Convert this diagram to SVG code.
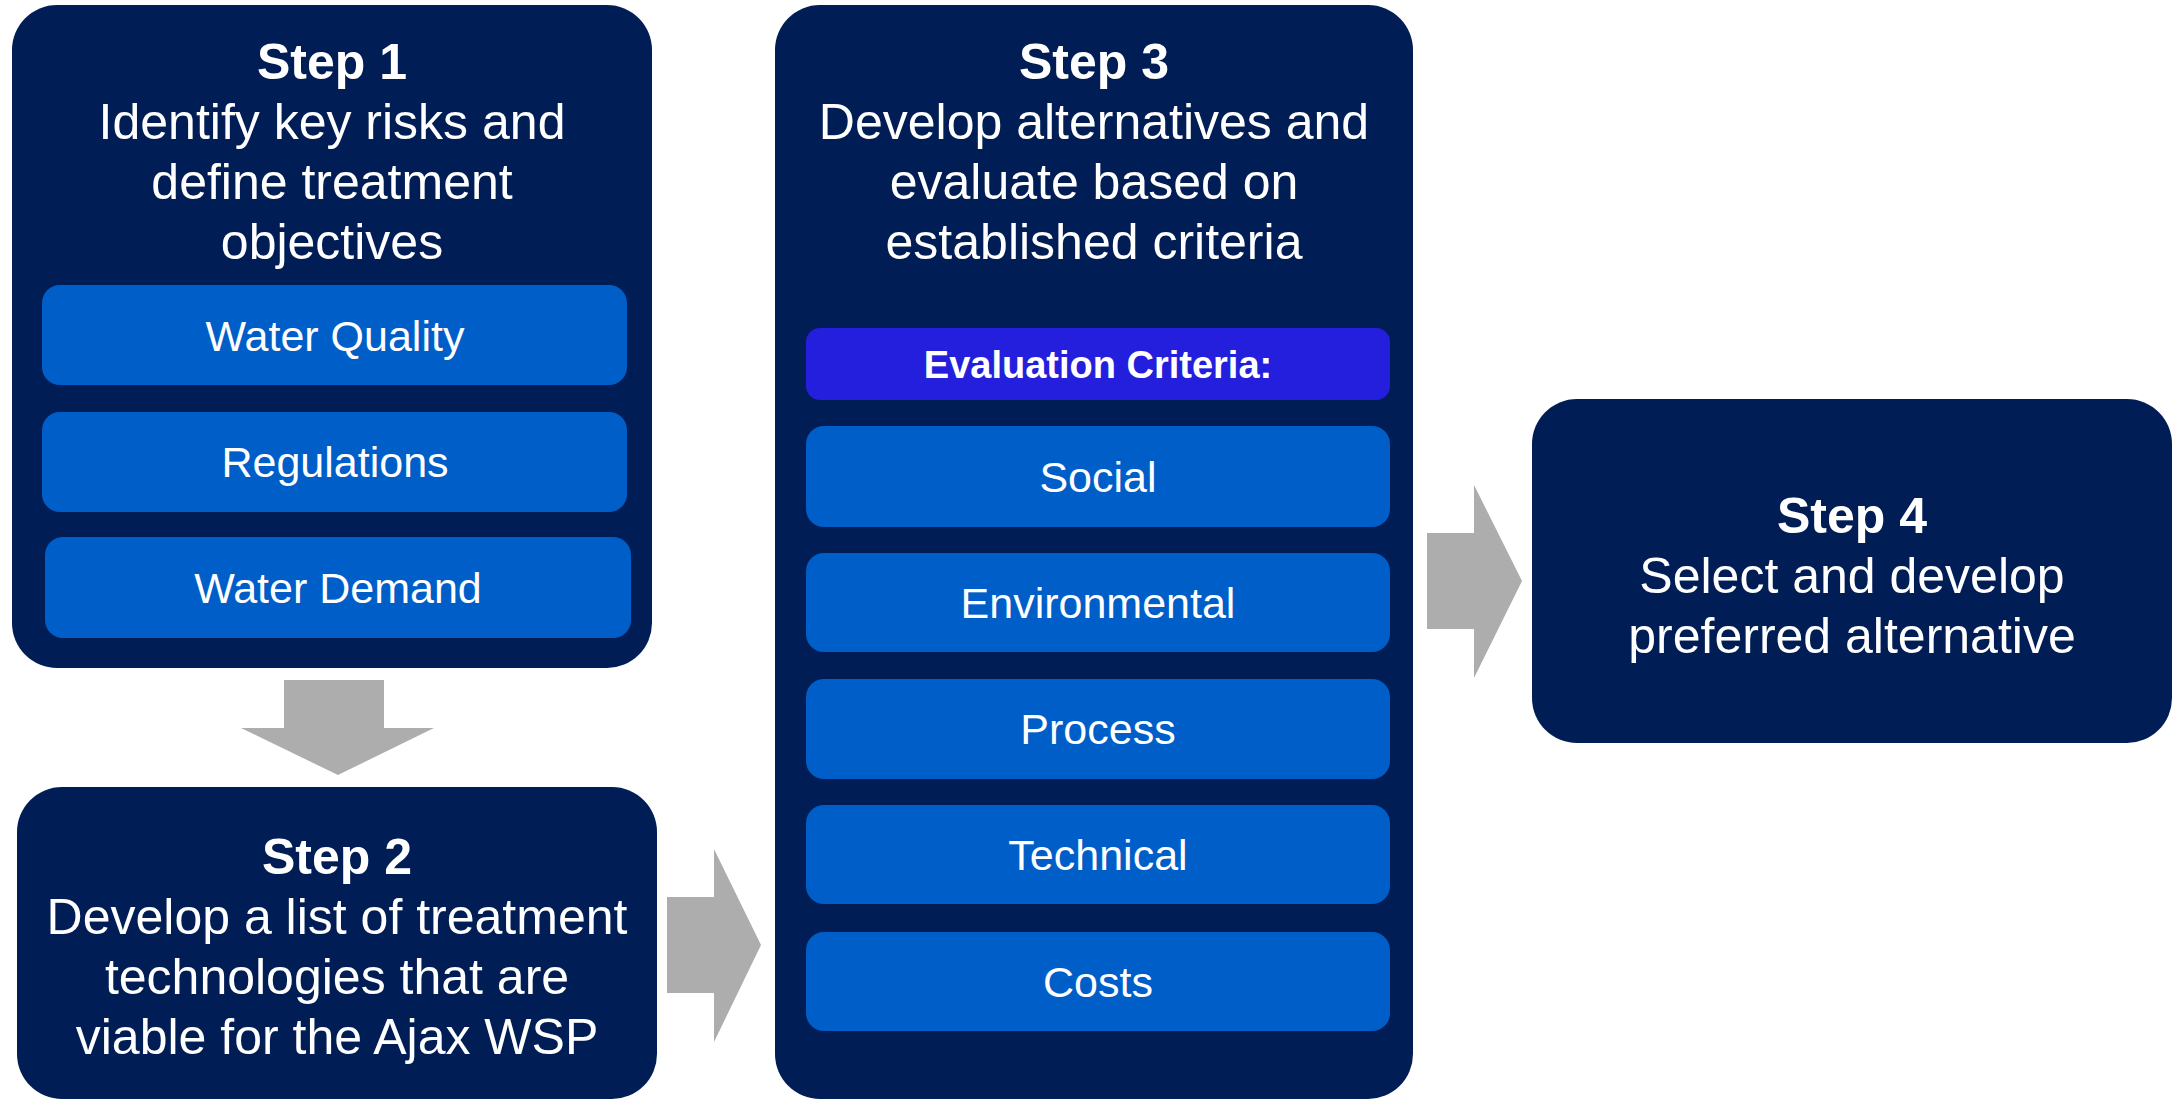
<svg xmlns="http://www.w3.org/2000/svg" width="2176" height="1099" viewBox="0 0 2176 1099">
<style>
.step{fill:#001E55}
.sub{fill:#005EC8}
.eval{fill:#241FDC}
.arrow{fill:#ADADAD}
text{font-family:"Liberation Sans",Arial,sans-serif;fill:#FFFFFF;text-anchor:middle}
.t{font-size:50px}
.tb{font-size:50px;font-weight:bold}
.s{font-size:43px}
.eb{font-size:38px;font-weight:bold}
</style>
<rect width="2176" height="1099" fill="#FFFFFF"/>
<g id="connectors">
<polygon class="arrow" points="284,680 384,680 384,728 434,728 338,775 241,728 284,728"/>
<polygon class="arrow" points="667,897 714,897 714,849 761,945 714,1042 714,993 667,993"/>
<polygon class="arrow" points="1427,533 1474,533 1474,485 1522,581 1474,678 1474,629 1427,629"/>
</g>
<g id="step1">
<rect class="step" x="12" y="5" width="640" height="663" rx="45"/>
<text class="tb" x="332" y="79">Step 1</text>
<text class="t" x="332" y="139">Identify key risks and</text>
<text class="t" x="332" y="199">define treatment</text>
<text class="t" x="332" y="259">objectives</text>
<g id="water-quality"><rect class="sub" x="42" y="285" width="585" height="100" rx="18"/><text class="s" x="335" y="351">Water Quality</text></g>
<g id="regulations"><rect class="sub" x="42" y="412" width="585" height="100" rx="18"/><text class="s" x="335" y="477">Regulations</text></g>
<g id="water-demand"><rect class="sub" x="45" y="537" width="586" height="101" rx="18"/><text class="s" x="338" y="603">Water Demand</text></g>
</g>
<g id="step2">
<rect class="step" x="17" y="787" width="640" height="312" rx="45"/>
<text class="tb" x="337" y="874">Step 2</text>
<text class="t" x="337" y="934">Develop a list of treatment</text>
<text class="t" x="337" y="994">technologies that are</text>
<text class="t" x="337" y="1054">viable for the Ajax WSP</text>
</g>
<g id="step3">
<rect class="step" x="775" y="5" width="638" height="1094" rx="45"/>
<text class="tb" x="1094" y="79">Step 3</text>
<text class="t" x="1094" y="139">Develop alternatives and</text>
<text class="t" x="1094" y="199">evaluate based on</text>
<text class="t" x="1094" y="259">established criteria</text>
<g id="evaluation-criteria"><rect class="eval" x="806" y="328" width="584" height="72" rx="14"/><text class="eb" x="1098" y="378">Evaluation Criteria:</text></g>
<g id="social"><rect class="sub" x="806" y="426" width="584" height="101" rx="18"/><text class="s" x="1098" y="492">Social</text></g>
<g id="environmental"><rect class="sub" x="806" y="553" width="584" height="99" rx="18"/><text class="s" x="1098" y="618">Environmental</text></g>
<g id="process"><rect class="sub" x="806" y="679" width="584" height="100" rx="18"/><text class="s" x="1098" y="744">Process</text></g>
<g id="technical"><rect class="sub" x="806" y="805" width="584" height="99" rx="18"/><text class="s" x="1098" y="870">Technical</text></g>
<g id="costs"><rect class="sub" x="806" y="932" width="584" height="99" rx="18"/><text class="s" x="1098" y="997">Costs</text></g>
</g>
<g id="step4">
<rect class="step" x="1532" y="399" width="640" height="344" rx="45"/>
<text class="tb" x="1852" y="533">Step 4</text>
<text class="t" x="1852" y="593">Select and develop</text>
<text class="t" x="1852" y="653">preferred alternative</text>
</g>
</svg>
